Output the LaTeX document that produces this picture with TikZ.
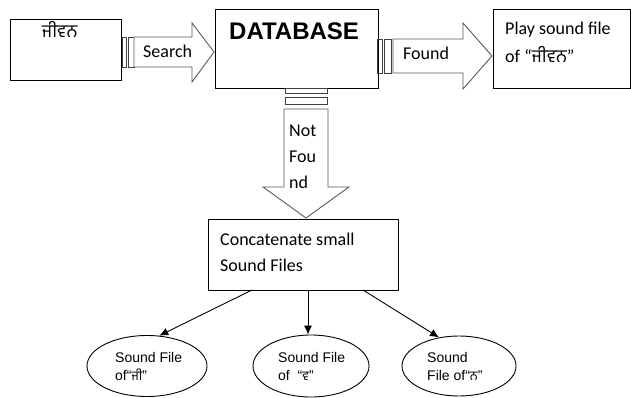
\documentclass[tikz,border=0pt]{standalone}
\usepackage{fontspec}
\setmainfont{Carlito}
\newfontfamily\arialf{Liberation Sans}
\newfontfamily\gur[Script=Gurmukhi]{Hind Jalandhar}
\usetikzlibrary{shapes.geometric,arrows.meta}
\tikzset{
  box/.style={draw=black,line width=0.9pt,rectangle,inner sep=0pt},
  oval/.style={draw=black,line width=0.9pt,ellipse,inner sep=0pt},
  barbox/.style={draw=black!75,line width=0.9pt},
  blockarrow/.style={draw=black!65,line width=0.9pt,fill=white},
  txt/.style={anchor=base west,inner sep=0pt,font=\fontsize{18}{27}\selectfont},
  etxt/.style={anchor=base west,inner sep=0pt,font=\arialf\fontsize{14}{18}\selectfont},
  conn/.style={draw=black,line width=0.9pt,-{Latex[length=9pt,width=8pt]}}
}
\begin{document}
\begin{tikzpicture}[x=1pt,y=-1pt]
\useasboundingbox (0,0) rectangle (631,398);
% boxes
\node[box,minimum width=111pt,minimum height=61pt] (word) at (65.5,49.5) {};
\node[box,minimum width=163pt,minimum height=79pt] (db) at (296.5,48.5) {};
\node[box,minimum width=137pt,minimum height=79pt] (play) at (561.5,48.5) {};
\node[box,minimum width=190pt,minimum height=71pt] (cc) at (303,254.5) {};
% bars
\draw[barbox] (122,37) rectangle (126,67);
\draw[barbox] (128,37) rectangle (134,67);
\draw[barbox] (377,39) rectangle (382,73);
\draw[barbox] (384,39) rectangle (391,73);
\draw[barbox] (285,88) rectangle (327,93);
\draw[barbox] (285,97) rectangle (327,104);
% block arrows
\draw[blockarrow] (134,37) -- (192,37) -- (192,23) -- (214,52) -- (192,82) -- (192,67) -- (134,67) -- cycle;
\draw[blockarrow] (393,39) -- (463,39) -- (463,23) -- (492,56) -- (463,89) -- (463,73) -- (393,73) -- cycle;
\draw[blockarrow] (284,109) -- (328,109) -- (328,187) -- (349,187) -- (306,218) -- (263,187) -- (284,187) -- cycle;
% texts
\node[txt] (t1) at (42,38) {\gur ਜੀਵਨ};
\node[anchor=base west,inner sep=0pt,font=\arialf\bfseries\fontsize{24}{28}\selectfont] (t2) at (229,40) {DATABASE};
\node[txt] (t3) at (143,58) {Search};
\node[txt] (t4) at (403,60) {Found};
\node[txt] (t5) at (505,35) {Play sound file};
\node[txt] (t6) at (505,63) {of “{\gur ਜੀਵਨ}”};
\node[txt] (t7) at (289,137) {Not};
\node[txt] (t8) at (289,163) {Fou};
\node[txt] (t9) at (289,189) {nd};
\node[txt] (t10) at (220,245) {Concatenate small};
\node[txt] (t11) at (220,271) {Sound Files};
% ellipses
\node[oval,minimum width=120pt,minimum height=61pt] (e1) at (147,366) {};
\node[oval,minimum width=116pt,minimum height=62pt] (e2) at (311,366) {};
\node[oval,minimum width=114pt,minimum height=60pt] (e3) at (459,366) {};
\node[etxt] (u1) at (115,362) {Sound File};
\node[etxt] (u2) at (115,380) {of“{\gur\fontsize{13}{18}\selectfont ਜੀ}”};
\node[etxt] (u3) at (278,362) {Sound File};
\node[etxt] (u4) at (278,380) {of \ “{\gur\fontsize{13}{18}\selectfont ਵ}”};
\node[etxt] (u5) at (427,362) {Sound};
\node[etxt] (u6) at (427,380) {File of“{\gur\fontsize{13}{18}\selectfont ਨ}”};
% connectors
\coordinate (s1) at (252,290);
\coordinate (s2) at (308,290);
\coordinate (s3) at (363,290);
\draw[conn] (s1) -- (e1.68);
\draw[conn] (s2) -- (e2.north -| s2);
\draw[conn] (s3) -- (e3.125);
\end{tikzpicture}
\end{document}
